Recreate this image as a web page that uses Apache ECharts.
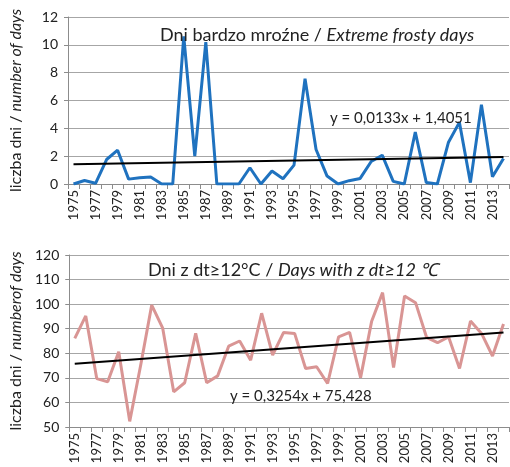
<!DOCTYPE html>
<html>
<head>
<meta charset="utf-8">
<script src="https://cdn.jsdelivr.net/npm/echarts@6/dist/echarts.min.js"></script>
<style>html,body{margin:0;padding:0;background:#fff;}#c{width:510px;height:467px;}</style>
</head>
<body>
<div id="c"></div>
<script>
const years = [];
for (let y = 1975; y <= 2014; y++) years.push(String(y));

const frostyDays = [0, 0.25, 0.05, 1.76, 2.43, 0.35, 0.45, 0.5, 0, 0,
  10.6, 2.0, 10.2, 0, 0, 0, 1.17, 0, 0.93, 0.38,
  1.36, 7.57, 2.48, 0.57, 0, 0.24, 0.4, 1.62, 2.07, 0.19,
  0, 3.74, 0.1, 0, 2.98, 4.43, 0.1, 5.69, 0.52, 1.83];

const warmDays = [86.1, 95.2, 69.7, 68.4, 80.6, 52.3, 75.2, 99.6, 90.2, 64.3,
  68.0, 88.1, 68.0, 70.8, 82.9, 85.0, 77.2, 96.3, 79.3, 88.5,
  88.1, 73.8, 74.5, 67.7, 86.7, 88.5, 70.1, 92.9, 104.7, 74.2,
  103.3, 100.6, 86.5, 84.3, 86.7, 73.8, 93.1, 88.1, 78.9, 91.9];

// trend line end points (1975, 2014)
const frostyTrend = [1.42, 1.94];
const warmTrend = [75.75, 88.44];

const topTicks = [0, 12, 2];
const bottomTicks = [50, 120, 10];

const FONT = 'Lato, "Open Sans", sans-serif';
const txt = '#222';

function trendData(t) {
  return [[years[0], t[0]], [years[years.length - 1], t[1]]];
}

const chart = echarts.init(document.getElementById('c'), null, {renderer: 'canvas'});

function xAxis(gi) {
  return {
    type: 'category', gridIndex: gi, data: years, boundaryGap: true,
    axisLine: {lineStyle: {color: '#8c8c8c', width: 1}},
    axisTick: {show: true, interval: 0, length: 5, lineStyle: {color: '#8c8c8c'}},
    axisLabel: {interval: 1, rotate: 90, fontFamily: FONT, fontSize: 13, color: txt, margin: 6},
    splitLine: {show: false}
  };
}
function yAxis(gi, t, nameRich) {
  return {
    type: 'value', gridIndex: gi, min: t[0], max: t[1], interval: t[2],
    axisLine: {show: true, lineStyle: {color: '#8c8c8c'}},
    axisTick: {show: true, length: 4, lineStyle: {color: '#8c8c8c'}},
    axisLabel: {fontFamily: FONT, fontSize: 14, color: txt, margin: 10},
    splitLine: {lineStyle: {color: '#a6a6a6', width: 1}},
    name: nameRich, nameLocation: 'middle', nameRotate: 90, nameGap: 44,
    nameTextStyle: {
      fontFamily: FONT, fontSize: 16, color: txt,
      rich: {
        a: {fontFamily: FONT, fontSize: 16, color: txt},
        b: {fontFamily: FONT, fontSize: 16, color: txt, fontStyle: 'italic'}
      }
    }
  };
}

const richTitle = {
  a: {fontFamily: FONT, fontSize: 18, color: txt, fontWeight: 'normal'},
  b: {fontFamily: FONT, fontSize: 18, color: txt, fontWeight: 'normal', fontStyle: 'italic'}
};

chart.setOption({
  animation: false,
  backgroundColor: '#fff',
  title: [
    {text: '{a|Dni bardzo mroźne / }{b|Extreme frosty days}', left: 155, top: 21, textStyle: {fontWeight: 'normal', rich: richTitle}},
    {text: '{a|Dni z dt≥12°C / }{b|Days with z dt≥12 ℃}', left: 143, top: 256, textStyle: {fontWeight: 'normal', rich: richTitle}},
    {text: 'y = 0,0133x + 1,4051', left: 325, top: 106, textStyle: {fontFamily: FONT, fontSize: 15, fontWeight: 'normal', color: txt}},
    {text: 'y = 0,3254x + 75,428', left: 225, top: 384, textStyle: {fontFamily: FONT, fontSize: 15, fontWeight: 'normal', color: txt}}
  ],
  grid: [
    {left: 66, right: 1, top: 17, height: 167},
    {left: 66, right: 1, top: 255, height: 172}
  ],
  xAxis: [xAxis(0), xAxis(1)],
  yAxis: [
    yAxis(0, topTicks, '{a|liczba dni / }{b|number of days}'),
    yAxis(1, bottomTicks, '{a|liczba dni / }{b|numberof days}')
  ],
  series: [
    {type: 'line', xAxisIndex: 0, yAxisIndex: 0, data: frostyDays, symbol: 'none',
      lineStyle: {color: '#1f72bf', width: 3}, z: 2},
    {type: 'line', xAxisIndex: 0, yAxisIndex: 0, data: trendData(frostyTrend), symbol: 'none',
      lineStyle: {color: '#000', width: 2}, z: 3},
    {type: 'line', xAxisIndex: 1, yAxisIndex: 1, data: warmDays, symbol: 'none',
      lineStyle: {color: '#d99594', width: 3}, z: 2},
    {type: 'line', xAxisIndex: 1, yAxisIndex: 1, data: trendData(warmTrend), symbol: 'none',
      lineStyle: {color: '#000', width: 2}, z: 3}
  ]
});
</script>
</body>
</html>
